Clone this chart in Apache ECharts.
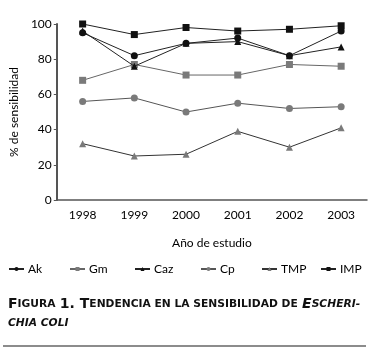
<!DOCTYPE html>
<html>
<head>
<meta charset="utf-8">
<script src="https://cdn.jsdelivr.net/npm/echarts@6/dist/echarts.min.js"></script>
<style>
  html, body { margin: 0; padding: 0; background: #fff; }
  #chart { width: 373px; height: 357px; }
</style>
</head>
<body>
<div id="chart"></div>
<script>
var years = ['1998', '1999', '2000', '2001', '2002', '2003'];
var ak  = [95, 82, 89, 92, 82, 96];
var gm  = [68, 77, 71, 71, 77, 76];
var caz = [96, 76, 89, 90, 82, 87];
var cp  = [56, 58, 50, 55, 52, 53];
var tmp = [32, 25, 26, 39, 30, 41];
var imp = [100, 94, 98, 96, 97, 99];

var FONT = 'Lato';
var TFONT = 'DejaVu Sans';
var BLACK = '#111';
var GRAY = '#7a7a7a';

var chart = echarts.init(document.getElementById('chart'));

// una serie por antibiótico
var mkSerie = function (name, data, symbol, color, lineColor) {
    return {
        name: name,
        type: 'line',
        data: data,
        symbol: symbol,
        symbolSize: 7,
        itemStyle: { color: color },
        lineStyle: { color: lineColor, width: 1 },
        emphasis: { disabled: true },
        z: color === BLACK ? 3 : 2
    };
};

var series = [
    mkSerie('Ak', ak, 'circle', BLACK, '#222'),
    mkSerie('Gm', gm, 'rect', GRAY, '#666'),
    mkSerie('Caz', caz, 'triangle', BLACK, '#222'),
    mkSerie('Cp', cp, 'circle', GRAY, '#555'),
    mkSerie('TMP', tmp, 'triangle', GRAY, '#333'),
    mkSerie('IMP', imp, 'rect', BLACK, '#222')
];

// una leyenda por elemento para colocar cada uno donde va
var legendLeft = [3, 64, 129, 195, 256, 315];
var legends = series.map(function (s, i) {
    return {
        data: [s.name],
        left: legendLeft[i],
        top: 258,
        itemWidth: 15,
        itemHeight: 5,
        itemGap: 4,
        textStyle: { fontFamily: FONT, fontSize: 12, color: '#000', padding: [0, 0, 0, -1] }
    };
});

var option = {
    animation: false,
    textStyle: { fontFamily: FONT },
    grid: { left: 43, right: 6, top: 24, bottom: 157 },
    legend: legends,
    title: {
        left: 3,
        top: 290,
        text: '{b|F}{s|IGURA} {b|1. T}{s|ENDENCIA EN LA SENSIBILIDAD DE} {bi|E}{si|SCHERI-}\n{si|CHIA COLI}',
        textStyle: {
            rich: {
                b: { fontFamily: TFONT, fontWeight: 'bold', fontSize: 14, color: '#111', lineHeight: 19 },
                s: { fontFamily: TFONT, fontWeight: 'bold', fontSize: 10.7, color: '#111', lineHeight: 19 },
                bi: { fontFamily: TFONT, fontWeight: 'bold', fontStyle: 'italic', fontSize: 14, color: '#111', lineHeight: 19 },
                si: { fontFamily: TFONT, fontWeight: 'bold', fontStyle: 'italic', fontSize: 10.7, color: '#111', lineHeight: 19 }
            }
        }
    },
    graphic: [{
        type: 'line',
        shape: { x1: 3, y1: 346, x2: 366, y2: 346 },
        style: { stroke: '#666', lineWidth: 1.5 }
    }],
    xAxis: {
        type: 'category',
        data: years,
        boundaryGap: true,
        name: 'Año de estudio',
        nameLocation: 'middle',
        nameGap: 37,
        nameTextStyle: { fontFamily: FONT, fontSize: 12, color: '#000' },
        axisLine: { lineStyle: { color: '#555', width: 1.5 } },
        axisTick: { inside: true, length: 4, lineStyle: { color: '#555' } },
        axisLabel: { fontFamily: FONT, fontSize: 12, color: '#000', margin: 9 },
        splitLine: { show: false }
    },
    yAxis: {
        type: 'value',
        min: 0,
        max: 100,
        interval: 20,
        name: '% de sensibilidad',
        nameLocation: 'middle',
        nameGap: 29,
        nameTextStyle: { fontFamily: FONT, fontSize: 12, color: '#000' },
        axisLine: { show: true, lineStyle: { color: '#555', width: 2 } },
        axisTick: { show: true, length: 3, lineStyle: { color: '#555' } },
        axisLabel: { fontFamily: FONT, fontSize: 12, color: '#000', margin: 5 },
        splitLine: { show: false }
    },
    series: series
};
chart.setOption(option);
</script>
</body>
</html>
